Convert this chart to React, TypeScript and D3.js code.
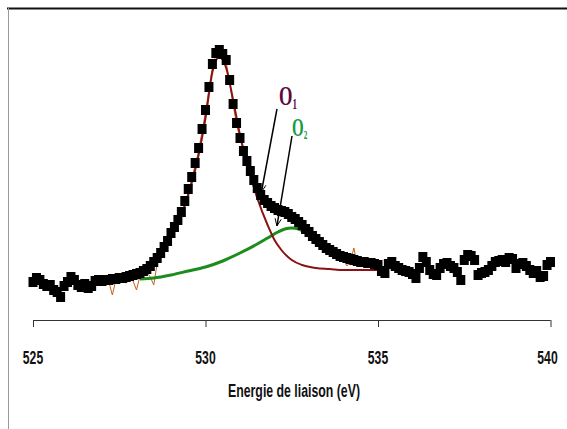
import React from "react";
import * as d3 from "d3";

// Binding energy grid of the measured spectrum (eV), 0.1 eV steps
const energies = d3.range(0, 151).map(i => +(525 + i * 0.1).toFixed(1));

// Measured counts (black squares)
const measured = [
  380, 420, 400, 360, 340, 350, 300, 280, 230, 340,
  380, 430, 400, 350, 330, 360, 320, 340, 390, 400,
  390, 400, 400, 410, 410, 420, 420, 430, 440, 450,
  460, 470, 490, 510, 540, 580, 620, 670, 730, 790,
  870, 930, 1000, 1080, 1190, 1310, 1430, 1570, 1720, 1910,
  2100, 2330, 2560, 2670, 2700, 2660, 2600, 2400, 2160, 1970,
  1820, 1690, 1590, 1490, 1400, 1320, 1250, 1200, 1170, 1140,
  1120, 1100, 1090, 1080, 1060, 1030, 1010, 980, 950, 910,
  880, 840, 810, 780, 750, 720, 700, 680, 660, 640,
  630, 620, 610, 600, 590, 580, 580, 570, 570, 560,
  550, 490, 470, 560, 580, 540, 520, 500, 490, 480,
  460, 420, 520, 630, 580, 500, 460, 450, 520, 560,
  570, 540, 520, 480, 400, 600, 650, 640, 600, 450,
  470, 480, 500, 540, 580, 590, 600, 580, 620, 610,
  520, 560, 570, 540, 500, 470, 490, 430, 440, 550,
  580,
];

// Raw trace (thin orange line), 527.2 .. 534.6 eV
const rawEnergies = d3.range(0, 75).map(i => +(527.2 + i * 0.1).toFixed(1));
const rawCounts = [
  380, 250, 400, 410, 390, 370, 420, 390, 300, 440,
  460, 480, 430, 350, 570, 620, 690, 750, 820, 900,
  970, 1060, 1160, 1280, 1410, 1550, 1690, 1890, 2080, 2310,
  2530, 2650, 2670, 2640, 2580, 2380, 2150, 1960, 1810, 1700,
  1600, 1540, 1420, 1340, 1240, 1180, 1160, 1130, 1110, 1090,
  1110, 1070, 1120, 1020, 1000, 960, 940, 900, 870, 830,
  800, 770, 740, 710, 690, 670, 650, 630, 600, 540,
  580, 720, 560, 540, 560,
];

// O1 component (dark red)
const o1Energies = [528.0, 528.5, 529.0, 529.5, 529.8, 530.0, 530.2, 530.4, 530.6, 530.8, 531.0, 531.2, 531.5, 531.8, 532.0, 532.2, 532.5, 532.8, 533.2, 533.6, 534.0, 535.0];
const o1Counts = [480, 560, 820, 1250, 1650, 2020, 2480, 2630, 2520, 2200, 1850, 1570, 1220, 950, 800, 700, 600, 550, 520, 510, 500, 500];

// O2 component (green)
const o2Energies = [528.1, 528.5, 529.0, 529.5, 530.0, 530.5, 531.0, 531.5, 531.8, 532.1, 532.3, 532.5, 532.7, 532.9];
const o2Counts = [410, 420, 450, 490, 530, 590, 670, 760, 820, 880, 910, 920, 910, 870];

const xTicks = [525, 530, 535, 540];

const W = 567;
const H = 429;

export default function App() {
  const x = d3.scaleLinear().domain([525, 540]).range([33, 550.5]);
  const y = d3.scaleLinear().domain([0, 2700]).range([320, 50]);
  const axisY = 320;

  const line = d3.line<[number, number]>()
    .x(d => x(d[0]))
    .y(d => y(d[1]))
    .curve(d3.curveMonotoneX);
  const rawLine = d3.line<[number, number]>()
    .x(d => x(d[0]))
    .y(d => y(d[1]));

  const rawPath = rawLine(rawEnergies.map((e, i) => [e, rawCounts[i]]) as [number, number][]);
  const o1Path = line(o1Energies.map((e, i) => [e, o1Counts[i]]) as [number, number][]);
  const o2Path = line(o2Energies.map((e, i) => [e, o2Counts[i]]) as [number, number][]);

  const sqW = 9;
  const sqH = 10;

  // annotation pointer lines (pointing to component curves)
  const arrows = [
    { x1: 277, y1: 109, e: 531.65, c: 1220 },
    { x1: 292, y1: 136, e: 532.1, c: 880 },
  ];

  return (
    <svg width={W} height={H} style={{ position: "absolute", left: 0, top: 0 }}
      fontFamily="'Liberation Sans', Arial, sans-serif">
      <rect x={0} y={0} width={W} height={H} fill="#fff" />
      {/* frame */}
      <line x1={7} y1={8.5} x2={W} y2={8.5} stroke="#111" strokeWidth={2} />
      <line x1={8.5} y1={8} x2={8.5} y2={H} stroke="#9a9a9a" strokeWidth={1} />

      {/* x axis */}
      <line x1={x(525)} y1={axisY + 0.5} x2={x(540)} y2={axisY + 0.5} stroke="#333" strokeWidth={1} />
      {xTicks.map(t => (
        <g key={t}>
          <line x1={x(t) + 0.5} y1={axisY} x2={x(t) + 0.5} y2={axisY + 7} stroke="#333" strokeWidth={1} />
          <text transform={`translate(${t === 540 ? x(t) - 3 : x(t)},364) scale(0.64,1)`}
            textAnchor="middle" fontWeight="bold" fontSize={19} fill="#111">{t}</text>
        </g>
      ))}
      <text x={294} y={397} textAnchor="middle" fontWeight="bold" fontSize={18}
        textLength={132} lengthAdjust="spacingAndGlyphs" fill="#111">Energie de liaison (eV)</text>

      {/* traces */}
      <path d={rawPath ?? ""} fill="none" stroke="#c8601e" strokeWidth={1} />
      <path d={o2Path ?? ""} fill="none" stroke="#1c8c1c" strokeWidth={3} />
      <path d={o1Path ?? ""} fill="none" stroke="#8b1212" strokeWidth={2} />
      {energies.map((e, i) => (
        <rect key={e} x={x(e) - sqW / 2} y={y(measured[i]) - sqH / 2} width={sqW} height={sqH} fill="#000" />
      ))}

      {/* annotations */}
      {arrows.map((a, i) => {
        const x2 = x(a.e) - 1;
        const y2 = y(a.c) - 6;
        const ang = Math.atan2(y2 - a.y1, x2 - a.x1);
        const len = 8;
        const spread = 0.4;
        const p1 = [x2 - len * Math.cos(ang - spread), y2 - len * Math.sin(ang - spread)];
        const p2 = [x2 - len * Math.cos(ang + spread), y2 - len * Math.sin(ang + spread)];
        return (
          <g key={i} stroke="#000" strokeWidth={1.5} fill="none">
            <line x1={a.x1} y1={a.y1} x2={x2} y2={y2} />
            <polyline points={`${p1[0]},${p1[1]} ${x2},${y2} ${p2[0]},${p2[1]}`} strokeWidth={1} />
          </g>
        );
      })}
      <g fontFamily="'Liberation Serif', 'Times New Roman', serif" fontWeight="bold">
        <text transform="translate(279,105) scale(0.64,1)" fontSize={27} fill="#5c0a3c">
          O<tspan fontSize={14} dy={4}>1</tspan>
        </text>
        <text transform="translate(292,136) scale(0.6,1)" fontSize={25} fill="#1a9a48">
          O<tspan fontSize={12} dy={3}>2</tspan>
        </text>
      </g>
    </svg>
  );
}
